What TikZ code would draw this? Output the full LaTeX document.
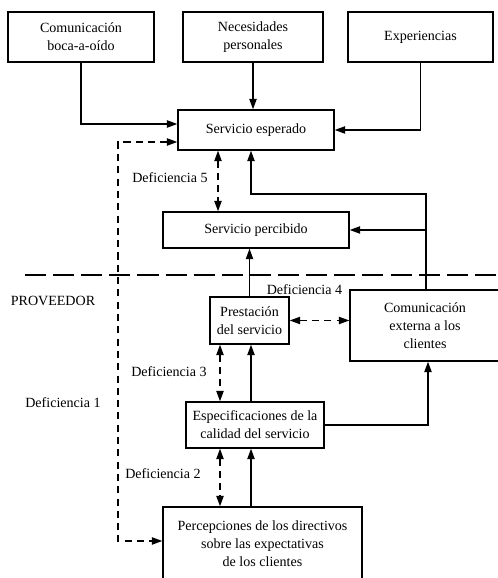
\documentclass[tikz,border=0pt]{standalone}
\usepackage{fontspec}
\setmainfont{Liberation Serif}
\usepackage{tikz}
\usetikzlibrary{arrows.meta, positioning}

\begin{document}
\begin{tikzpicture}[
  box/.style={draw, line width=0.6pt, align=center,
              font=\fontsize{8}{10.2}\selectfont, inner sep=2pt},
  lbl/.style={font=\fontsize{8}{10.2}\selectfont, inner sep=1pt},
  arr/.style={-{Triangle[length=6pt,width=4pt]}, line width=1.1pt},
  darr/.style={{Triangle[length=6pt,width=4pt]}-{Triangle[length=6pt,width=4pt]},
               line width=1.1pt, dash pattern=on 4pt off 3pt},
]
\useasboundingbox (0,0) rectangle (9.94,11.56);

% lado del cliente
\node[box, minimum width=2.92cm, minimum height=1.0cm] (boca) at (1.62,10.82) {Comunicación\\boca-a-oído};
\node[box, minimum width=2.8cm,  minimum height=1.0cm] (nec)  at (5.06,10.82) {Necesidades\\personales};
\node[box, minimum width=2.9cm,  minimum height=1.0cm] (exp)  at (8.41,10.82) {Experiencias};

\node[box, minimum width=3.12cm, minimum height=0.8cm]  (esp) at (5.12,8.96) {Servicio esperado};
\node[box, minimum width=3.72cm, minimum height=0.72cm] (per) at (5.12,6.96) {Servicio percibido};

% lado del proveedor
\draw[line width=1.2pt, dash pattern=on 12pt off 4pt] (0.5,6.06) -- (9.94,6.06);
\node[lbl] (prov) at (1.06,5.54) {PROVEEDOR};

\node[box, minimum width=1.58cm, minimum height=0.94cm] (pres) at (4.99,5.15) {Prestación\\del servicio};
\node[box, minimum width=3.0cm,  minimum height=1.42cm] (ext)  at (8.5,5.05) {Comunicación\\externa a los\\clientes};
\node[box, minimum width=2.76cm, minimum height=0.92cm] (spec) at (5.10,3.06) {Especificaciones de la\\calidad del servicio};
\node[box, minimum width=3.98cm, minimum height=1.48cm] (dir)  at (5.25,0.68) {Percepciones de los directivos\\sobre las expectativas\\de los clientes};

% deficiencias
\node[lbl] (d5) at (3.4,8.0)  {Deficiencia 5};
\node[lbl, anchor=east] (d4) at ([xshift=-3pt]ext.north west) {Deficiencia 4};
\node[lbl] (d3) at (3.38,4.12) {Deficiencia 3};
\node[lbl] (d1) at (1.26,3.5)  {Deficiencia 1};
\node[lbl] (d2) at (3.26,2.08) {Deficiencia 2};

% flechas hacia el servicio esperado
\draw[arr] (boca.south) |- ([yshift=0.12cm]esp.west);
\draw[arr] (nec.south) -- (nec.south |- esp.north);
\draw[arr] (exp.south) |- (esp.east);

\coordinate (jn) at (8.52,7.68);
\coordinate (g1) at (2.36,5);
\draw[arr] (ext.north -| jn) -- (jn) -| ([xshift=-0.1cm]esp.south);
\draw[arr] (jn |- per.east) -- (per.east);

\draw[darr] ([yshift=-0.24cm]esp.west) -| (g1) |- ([yshift=0.06cm]dir.west);
\draw[darr] ([xshift=-0.76cm]esp.south) -- ([xshift=-0.76cm]esp.south |- per.north);

% flechas del proveedor
\draw[arr] (pres.north) -- (pres.north |- per.south);
\draw[darr] (pres.east) -- (pres.east -| ext.west);
\draw[darr] ([xshift=-0.59cm]pres.south) -- ([xshift=-0.59cm]pres.south |- spec.north);
\draw[arr] ([xshift=-0.08cm]spec.north) -- ([xshift=-0.08cm]spec.north |- pres.south);
\draw[arr] (spec.east) -| ([xshift=0.06cm]ext.south);
\draw[darr] ([xshift=-0.7cm]spec.south) -- ([xshift=-0.7cm]spec.south |- dir.north);
\draw[arr] ([xshift=-0.08cm]spec.south |- dir.north) -- ([xshift=-0.08cm]spec.south);
\end{tikzpicture}
\end{document}
